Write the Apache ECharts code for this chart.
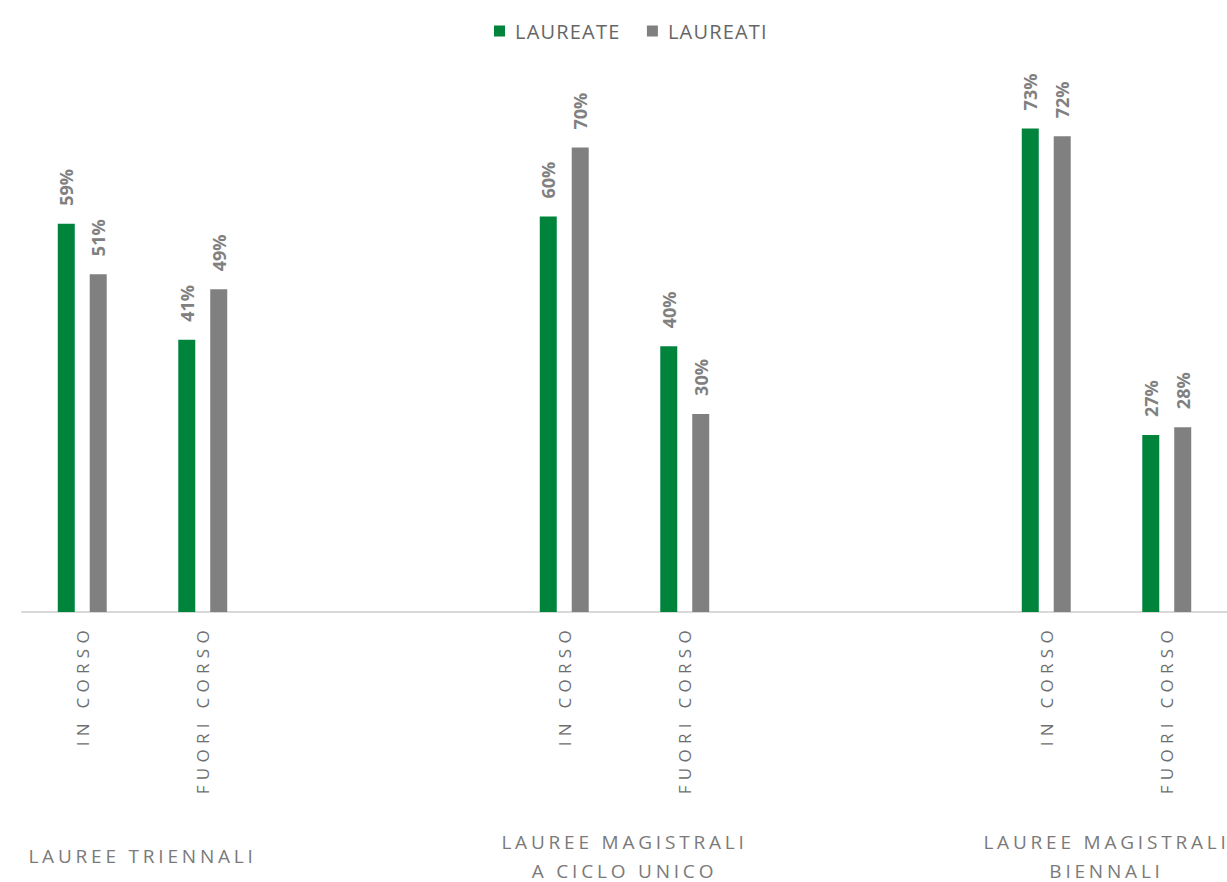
<!DOCTYPE html>
<html><head><meta charset="utf-8">
<script src="https://cdn.jsdelivr.net/npm/echarts@6/dist/echarts.min.js"></script>
<style>html,body{margin:0;padding:0;background:#fff}#c{width:1227px;height:882px}</style>
</head><body><div id="c"></div>
<script>
// Category slots (blank slots separate the three groups)
const categories = ['IN CORSO','FUORI CORSO','','','IN CORSO','FUORI CORSO','','','IN CORSO','FUORI CORSO'];
const groups = ['LAUREE TRIENNALI','','LAUREE MAGISTRALI\nA CICLO UNICO','','LAUREE MAGISTRALI\nBIENNALI'];
const seriesNames = ['LAUREATE','LAUREATI'];
// Values in percent
const laureate = [58.6, 41.1, null, null, 59.7, 40.1, null, null, 73.0, 26.7];
const laureati = [51.0, 48.7, null, null, 70.1, 29.9, null, null, 71.8, 27.9];

const chart = echarts.init(document.getElementById('c'), null, {renderer: 'svg'});
const axisSet = new Set(categories.filter(Boolean));
const groupSet = new Set(groups.filter(Boolean).join('\n').split('\n'));
const legendSet = new Set(seriesNames);
chart.on('finished', function () {
  document.querySelectorAll('#c svg text').forEach(function (t) {
    const s = t.textContent;
    if (axisSet.has(s)) t.style.letterSpacing = '5.3px';
    else if (groupSet.has(s)) t.style.letterSpacing = '3.8px';
    else if (legendSet.has(s)) t.style.letterSpacing = '1.2px';
  });
});
const labelCfg = {
  show: true, position: 'top', rotate: 90, align: 'left', verticalAlign: 'middle',
  distance: 18, fontFamily: 'Open Sans', fontWeight: 'bold', fontSize: 18, color: '#808080',
  formatter: function (p) { return Math.round(p.value) + '%'; }
};
chart.setOption({
  animation: false,
  textStyle: {fontFamily: 'Open Sans'},
  legend: {
    top: 16, left: 489, icon: 'rect', itemWidth: 11, itemHeight: 11, itemGap: 36,
    textStyle: {fontFamily: 'Open Sans', fontSize: 20, color: '#666666', padding: [0, 0, 0, 5]},
    data: seriesNames
  },
  grid: {left: 22, right: 0, top: 82, bottom: 270, outerBoundsMode: 'none', containLabel: false},
  xAxis: [{
    type: 'category', data: categories,
    axisLine: {lineStyle: {color: '#d9d9d9', width: 2}},
    axisTick: {show: false},
    axisLabel: {rotate: 90, interval: 0, margin: 13, fontSize: 17, color: '#6e6e6e', fontFamily: 'Open Sans'}
  }, {
    type: 'category', data: groups, position: 'bottom', offset: 236,
    axisLine: {show: false}, axisTick: {show: false},
    axisLabel: {interval: 0, margin: 8, fontSize: 19, lineHeight: 29, color: '#7a7a7a', verticalAlign: 'middle', fontFamily: 'Open Sans'}
  }],
  yAxis: {type: 'value', min: 0, max: 80, show: false},
  series: [{
    name: seriesNames[0], type: 'bar', data: laureate, barWidth: 17, barGap: '88%',
    itemStyle: {color: '#00843C'}, label: labelCfg
  }, {
    name: seriesNames[1], type: 'bar', data: laureati, barWidth: 17, barGap: '88%',
    itemStyle: {color: '#808080'}, label: labelCfg
  }]
});
</script></body></html>
